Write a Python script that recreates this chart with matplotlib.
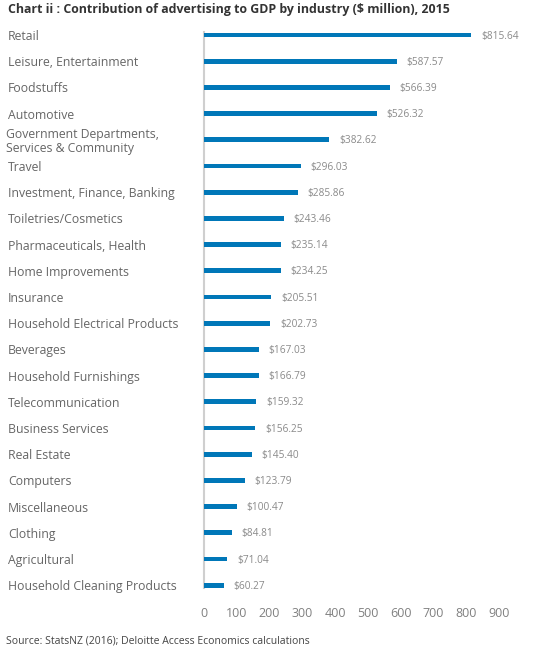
import matplotlib
matplotlib.use("Agg")
import matplotlib.pyplot as plt
from matplotlib.transforms import blended_transform_factory, offset_copy

categories = ["Retail", "Leisure, Entertainment", "Foodstuffs", "Automotive",
              "Government Departments,\nServices & Community", "Travel",
              "Investment, Finance, Banking", "Toiletries/Cosmetics",
              "Pharmaceuticals, Health", "Home Improvements", "Insurance",
              "Household Electrical Products", "Beverages", "Household Furnishings",
              "Telecommunication", "Business Services", "Real Estate", "Computers",
              "Miscellaneous", "Clothing", "Agricultural", "Household Cleaning Products"]
values = [815.64, 587.57, 566.39, 526.32, 382.62, 296.03, 285.86, 243.46, 235.14,
          234.25, 205.51, 202.73, 167.03, 166.79, 159.32, 156.25, 145.40, 123.79,
          100.47, 84.81, 71.04, 60.27]
xticks = [0, 100, 200, 300, 400, 500, 600, 700, 800, 900]

plt.rcParams['font.family'] = ['Open Sans', 'DejaVu Sans']

W, H = 536, 656
fig = plt.figure(figsize=(W / 100, H / 100), dpi=100)
fig.patch.set_facecolor('white')

n = len(categories)
row = 26.2
y0 = 35.0
top_px = y0 - row / 2
bot_px = y0 + (n - 1) * row + row / 2
left_px, right_px = 204, 499
ax = fig.add_axes([left_px / W, 1 - bot_px / H, (right_px - left_px) / W, (bot_px - top_px) / H])

ypos = list(range(n))
bar_h = 0.18
ax.barh(ypos, values, height=bar_h, color='#0077B8', zorder=3)
ax.set_ylim(n - 0.5, -0.5)
ax.set_xlim(0, 900)

for s in ['top', 'right', 'bottom']:
    ax.spines[s].set_visible(False)
ax.spines['left'].set_color('#cfcfcf')
ax.spines['left'].set_linewidth(1.5)
ax.spines['left'].set_bounds(-bar_h / 2 - 0.02, n - 1 + bar_h / 2 + 0.02)

ax.set_yticks([])
ax.set_xticks(xticks)
ax.set_xticklabels([str(t) for t in xticks], fontsize=9, color='#808080')
ax.tick_params(axis='x', length=0, pad=6)

for y, v in zip(ypos, values):
    ax.annotate("\\$%.2f" % v, xy=(v, y), xytext=(7, -0.8), textcoords='offset points',
                ha='left', va='center', fontsize=7.3, color='#8a8a8a')

trans = offset_copy(blended_transform_factory(fig.transFigure, ax.transData),
                    fig=fig, x=0, y=-1.5, units='dots')
for y, c in zip(ypos, categories):
    xx = 6 / W if '\n' in c else 8 / W
    ax.text(xx, y, c, transform=trans, ha='left', va='center', fontsize=8.8,
            color='#666666', linespacing=1.05)

fig.text(8 / W, 1 - 10 / H, "Chart ii : Contribution of advertising to GDP by industry (\\$ million), 2015",
         ha='left', va='center', fontsize=8.9, fontweight='bold', color='#333333')
fig.text(6 / W, 1 - 641 / H, "Source: StatsNZ (2016); Deloitte Access Economics calculations",
         ha='left', va='center', fontsize=7.5, color='#444444')

fig.savefig("out.png", dpi=100, facecolor='white')
